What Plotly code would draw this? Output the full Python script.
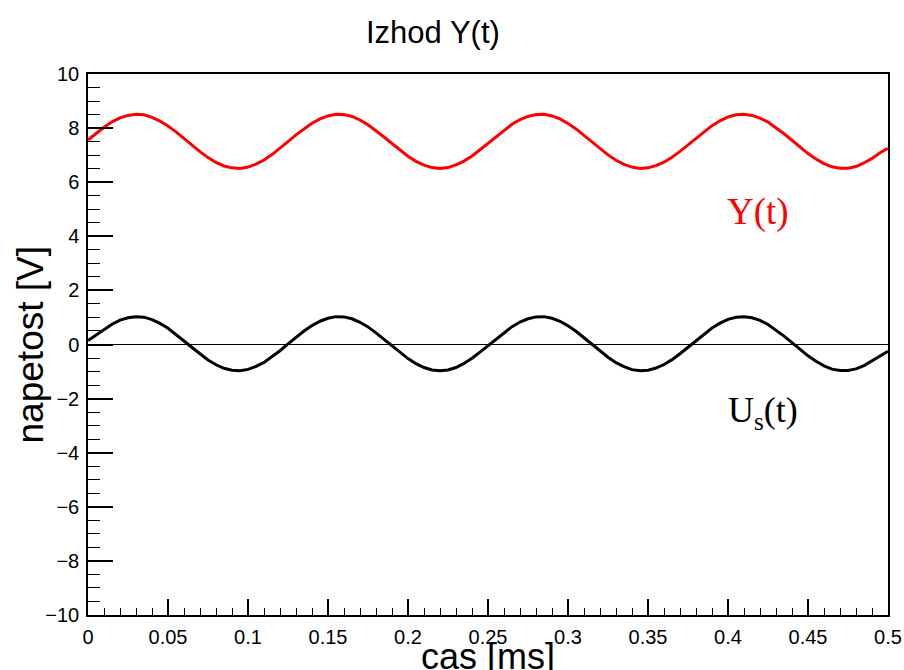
import plotly.graph_objects as go

# time axis [ms]
t_ms = [0.000, 0.005, 0.010, 0.015, 0.020, 0.025, 0.030, 0.035, 0.040, 0.045,
        0.050, 0.055, 0.060, 0.065, 0.070, 0.075, 0.080, 0.085, 0.090, 0.095,
        0.100, 0.105, 0.110, 0.115, 0.120, 0.125, 0.130, 0.135, 0.140, 0.145,
        0.150, 0.155, 0.160, 0.165, 0.170, 0.175, 0.180, 0.185, 0.190, 0.195,
        0.200, 0.205, 0.210, 0.215, 0.220, 0.225, 0.230, 0.235, 0.240, 0.245,
        0.250, 0.255, 0.260, 0.265, 0.270, 0.275, 0.280, 0.285, 0.290, 0.295,
        0.300, 0.305, 0.310, 0.315, 0.320, 0.325, 0.330, 0.335, 0.340, 0.345,
        0.350, 0.355, 0.360, 0.365, 0.370, 0.375, 0.380, 0.385, 0.390, 0.395,
        0.400, 0.405, 0.410, 0.415, 0.420, 0.425, 0.430, 0.435, 0.440, 0.445,
        0.450, 0.455, 0.460, 0.465, 0.470, 0.475, 0.480, 0.485, 0.490, 0.495,
        0.500]

# output Y(t) [V]
y_out = [7.56, 7.80, 8.03, 8.23, 8.38, 8.47, 8.51, 8.49, 8.40, 8.26,
         8.08, 7.86, 7.61, 7.37, 7.13, 6.91, 6.73, 6.60, 6.53, 6.51,
         6.56, 6.67, 6.82, 7.02, 7.25, 7.50, 7.75, 7.98, 8.18, 8.34,
         8.45, 8.51, 8.50, 8.43, 8.30, 8.12, 7.91, 7.67, 7.43, 7.18,
         6.96, 6.77, 6.63, 6.54, 6.51, 6.54, 6.64, 6.78, 6.97, 7.20,
         7.44, 7.69, 7.93, 8.14, 8.31, 8.43, 8.50, 8.51, 8.45, 8.34,
         8.17, 7.97, 7.73, 7.49, 7.24, 7.01, 6.81, 6.66, 6.56, 6.51,
         6.53, 6.61, 6.74, 6.92, 7.14, 7.38, 7.63, 7.87, 8.09, 8.27,
         8.41, 8.49, 8.51, 8.47, 8.37, 8.22, 8.02, 7.79, 7.55, 7.30,
         7.06, 6.86, 6.69, 6.57, 6.52, 6.52, 6.58, 6.71, 6.88, 7.09,
         7.25]

# input Us(t) [V]
u_s = [0.15, 0.34, 0.55, 0.75, 0.90, 0.99, 1.03, 1.01, 0.92, 0.78,
       0.60, 0.38, 0.13, -0.11, -0.35, -0.57, -0.75, -0.88, -0.95, -0.97,
       -0.92, -0.81, -0.66, -0.46, -0.23, 0.02, 0.27, 0.50, 0.70, 0.86,
       0.97, 1.03, 1.02, 0.95, 0.82, 0.65, 0.43, 0.19, -0.06, -0.30,
       -0.52, -0.71, -0.85, -0.94, -0.97, -0.94, -0.85, -0.70, -0.51, -0.28,
       -0.04, 0.21, 0.45, 0.66, 0.83, 0.95, 1.02, 1.03, 0.97, 0.86,
       0.69, 0.49, 0.25, 0.01, -0.24, -0.47, -0.67, -0.82, -0.93, -0.97,
       -0.95, -0.87, -0.74, -0.56, -0.34, -0.10, 0.15, 0.39, 0.61, 0.79,
       0.93, 1.01, 1.03, 0.99, 0.89, 0.74, 0.54, 0.31, 0.07, -0.18,
       -0.42, -0.62, -0.79, -0.91, -0.96, -0.96, -0.90, -0.78, -0.60, -0.42,
       -0.25]

title_text = "Izhod Y(t)"
x_title = "cas [ms]"
y_title = "napetost [V]"
label_y = "Y(t)"
label_u = "U<sub>s</sub>(t)"

SANS = "Liberation Sans, Arial, Helvetica, sans-serif"
SERIF = "Liberation Serif, Times New Roman, serif"

fig = go.Figure()
fig.add_trace(go.Scatter(x=t_ms, y=y_out, mode="lines", line=dict(color="#ff0000", width=3), showlegend=False))
fig.add_trace(go.Scatter(x=t_ms, y=u_s, mode="lines", line=dict(color="black", width=3), showlegend=False))

fig.update_layout(
    template="none",
    width=904, height=670,
    margin=dict(l=88, r=16, t=74, b=55, autoexpand=False),
    paper_bgcolor="white", plot_bgcolor="white",
    font=dict(family=SANS, color="black", size=20),
    showlegend=False,
)

fig.update_xaxes(
    automargin=False,
    range=[0, 0.5], dtick=0.05, tick0=0,
    showgrid=False, zeroline=False,
    showline=True, linecolor="black", linewidth=1.5, mirror=True,
    ticks="inside", ticklen=16, tickwidth=1.5, tickcolor="black",
    tickfont=dict(size=20, family=SANS),
    ticklabelstandoff=3,
    minor=dict(dtick=0.01, tick0=0, ticks="inside", ticklen=7, tickwidth=1.2, tickcolor="black", showgrid=False),
)
fig.update_yaxes(
    automargin=False,
    range=[-10, 10], dtick=2, tick0=0,
    showgrid=False, zeroline=True, zerolinecolor="black", zerolinewidth=1.2,
    showline=True, linecolor="black", linewidth=1.5, mirror=True,
    ticks="inside", ticklen=25, tickwidth=1.5, tickcolor="black",
    tickfont=dict(size=20, family=SANS),
    ticklabelstandoff=3,
    minor=dict(dtick=0.5, tick0=0, ticks="inside", ticklen=12, tickwidth=1.2, tickcolor="black", showgrid=False),
)

annotations = [
    dict(text=title_text, xref="paper", yref="paper", x=0.43125, y=1.0758,
         xanchor="center", yanchor="middle", showarrow=False,
         font=dict(family=SANS, size=31, color="black")),
    dict(text=x_title, xref="paper", yref="paper", x=0.5, y=-0.077,
         xanchor="center", yanchor="middle", showarrow=False,
         font=dict(family=SANS, size=36, color="black")),
    dict(text=y_title, xref="paper", yref="paper", x=-0.0713, y=0.5,
         xanchor="center", yanchor="middle", showarrow=False, textangle=-90,
         font=dict(family=SANS, size=37, color="black")),
    dict(text=label_y, xref="x", yref="y", x=0.419, y=4.9,
         xanchor="center", yanchor="middle", showarrow=False,
         font=dict(family=SERIF, size=37, color="#ff0000")),
    dict(text=label_u, xref="x", yref="y", x=0.422, y=-2.5,
         xanchor="center", yanchor="middle", showarrow=False,
         font=dict(family=SERIF, size=36, color="black")),
]
fig.update_layout(annotations=annotations)

fig.write_html(
    "out.html",
    config={"displayModeBar": False},
    post_script="document.body.style.margin='0px';document.body.style.padding='0px';document.documentElement.style.overflow='hidden';",
)
